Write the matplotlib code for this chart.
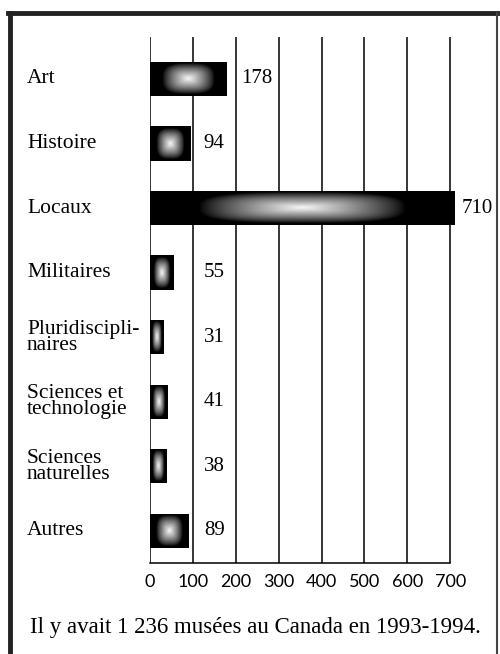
import numpy as np
import matplotlib
matplotlib.use("Agg")
import matplotlib.pyplot as plt
import matplotlib.transforms as mtransforms
from matplotlib.lines import Line2D

categories = ["Art", "Histoire", "Locaux", "Militaires", "Pluridiscipli-\nnaires",
              "Sciences et\ntechnologie", "Sciences\nnaturelles", "Autres"]
values = [178, 94, 710, 55, 31, 41, 38, 89]
ticks = [0, 100, 200, 300, 400, 500, 600, 700]
caption = "Il y avait 1 236 musées au Canada en 1993-1994."

serif = "Liberation Serif"
sans = "Lato"


def gradient(nw, nh):
    # dark rim, light centre, like the printed bars
    u = np.linspace(-1, 1, nw)
    v = np.linspace(-1, 1, nh)
    U, V = np.meshgrid(u, v)
    r = (np.abs(U) ** 3 + np.abs(0.75 * V) ** 3) ** (1 / 3)
    return 0.97 * np.clip(1 - r / 0.68, 0, 1) ** 0.8


def label_pos(v):
    # value label goes in the free part of the grid cell past the bar
    cell = (v // 100) * 100
    if cell + 100 - v >= 80:
        return (v + cell + 100) / 2 + 8
    return cell + 150


fig = plt.figure(figsize=(5, 6.54), dpi=100)
ax = fig.add_axes([0.3, 0.1391, 0.686, 0.8043])

y = np.arange(len(categories))
bars = ax.barh(y, values, height=0.53, color="black", zorder=3)
for b, v in zip(bars, values):
    x0, y0 = b.get_x(), b.get_y()
    im = ax.imshow(gradient(200, 40), cmap="gray", vmin=0, vmax=1,
                   extent=(x0, x0 + b.get_width(), y0 + b.get_height(), y0),
                   aspect="auto", interpolation="bilinear", zorder=4)
    im.set_clip_path(b)

ax.set_xlim(0, 800)
ax.set_ylim(7.5, -0.65)
ax.set_aspect("auto")

ax.vlines(ticks, 7.5, -0.65, color="black", lw=1.1, zorder=2)

for sp in ["top", "right", "left"]:
    ax.spines[sp].set_visible(False)
ax.spines["bottom"].set_bounds(0, 700)
ax.spines["bottom"].set_linewidth(1.1)

ax.set_xticks(ticks)
ax.set_xticklabels([str(t) for t in ticks], fontfamily=sans, fontsize=13)
ax.tick_params(axis="x", length=0, pad=8)
ax.set_yticks([])

for yi, v in zip(y, values):
    ax.text(label_pos(v), yi, str(v), ha="center", va="center",
            fontfamily=serif, fontsize=15, zorder=5)

trans = mtransforms.blended_transform_factory(fig.transFigure, ax.transData)
for yi, c in zip(y, categories):
    ax.text(27 / 500, yi, c, transform=trans, ha="left", va="center",
            fontfamily=serif, fontsize=15.5, linespacing=0.8)

fig.text(0.51, 1 - 628 / 654, caption, ha="center", va="center",
         fontfamily=serif, fontsize=16.5)

# frame around the figure
fig.add_artist(Line2D([10 / 500, 10 / 500], [0, 1 - 13 / 654], transform=fig.transFigure,
                      color="#222222", lw=3.5))
fig.add_artist(Line2D([8 / 500, 497 / 500], [1 - 13 / 654, 1 - 13 / 654], transform=fig.transFigure,
                      color="#222222", lw=3.5))
fig.add_artist(Line2D([497 / 500, 497 / 500], [0, 1 - 13 / 654], transform=fig.transFigure,
                      color="#444444", lw=1.5))

fig.savefig("out.png", dpi=100)
